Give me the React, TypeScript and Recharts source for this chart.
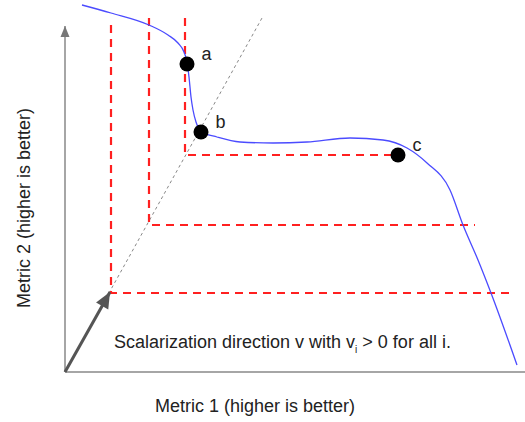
import { ComposedChart, Line, Scatter, XAxis, YAxis, LabelList } from "recharts";

// coordinates are measured from the origin of the picture, y up
const frontier = [
  { x: 17, y: 367 },
  { x: 46, y: 359 },
  { x: 84, y: 347 },
  { x: 103, y: 337 },
  { x: 113, y: 329 },
  { x: 119, y: 320 },
  { x: 122, y: 310 },
  { x: 124, y: 295 },
  { x: 126, y: 275 },
  { x: 128, y: 262 },
  { x: 131, y: 250 },
  { x: 137, y: 240 },
  { x: 152, y: 235 },
  { x: 175, y: 230 },
  { x: 208, y: 229 },
  { x: 242, y: 230 },
  { x: 285, y: 234 },
  { x: 318, y: 232 },
  { x: 342, y: 224 },
  { x: 362, y: 209 },
  { x: 385, y: 182 },
  { x: 398, y: 147 },
  { x: 413, y: 112 },
  { x: 426, y: 79 },
  { x: 452, y: 7 },
];

const solutions = [
  { x: 122, y: 308, name: "a" },
  { x: 136, y: 240, name: "b" },
  { x: 333, y: 217, name: "c" },
];

const levelA = [
  { x: 46, y: 347 },
  { x: 46, y: 79 },
  { x: 450, y: 79 },
];
const levelB = [
  { x: 84, y: 354 },
  { x: 84, y: 147 },
  { x: 410, y: 147 },
];
const levelC = [
  { x: 120, y: 354 },
  { x: 120, y: 217 },
  { x: 333, y: 217 },
];

const diagonal = [
  { x: 0, y: 0 },
  { x: 197, y: 354 },
];
const direction = [
  { x: 0, y: 0 },
  { x: 45, y: 80 },
];
const xAxisLine = [
  { x: 0, y: 0 },
  { x: 460, y: 0 },
];
const yAxisLine = [
  { x: 0, y: 0 },
  { x: 0, y: 346 },
];

const font = '"Liberation Sans", Arial, sans-serif';

// arrowhead drawn at the last point of a two-point line
function arrowHead(color: string, len: number, half: number, data: { x: number; y: number }[]) {
  const dx = data[1].x - data[0].x;
  const dy = -(data[1].y - data[0].y);
  const ang = Math.atan2(dy, dx);
  return (props: any) => {
    const { cx, cy, index } = props;
    if (index !== data.length - 1) return <g key={index} />;
    const bx = cx - len * Math.cos(ang);
    const by = cy - len * Math.sin(ang);
    const px = -Math.sin(ang) * half;
    const py = Math.cos(ang) * half;
    return (
      <polygon
        key={index}
        points={`${cx},${cy} ${bx + px},${by + py} ${bx - px},${by - py}`}
        fill={color}
      />
    );
  };
}

export default function App() {
  return (
    <div style={{ position: "absolute", left: 0, top: 0, width: 525, height: 422, background: "#fff", fontFamily: font }}>
      <ComposedChart width={525} height={422} margin={{ top: 0, right: 0, left: 65, bottom: 50 }}>
        <XAxis type="number" dataKey="x" domain={[0, 460]} hide />
        <YAxis type="number" dataKey="y" domain={[0, 372]} hide />
        <Line data={xAxisLine} dataKey="y" stroke="#888" strokeWidth={1.5} dot={false} isAnimationActive={false} />
        <Line
          data={yAxisLine}
          dataKey="y"
          stroke="#888"
          strokeWidth={1.5}
          dot={arrowHead("#777", 11, 4.5, yAxisLine)}
          isAnimationActive={false}
        />
        <Line data={diagonal} dataKey="y" stroke="#888" strokeWidth={1} strokeDasharray="3 3" dot={false} isAnimationActive={false} />
        <Line data={levelA} dataKey="y" stroke="#ff2020" strokeWidth={2.2} strokeDasharray="8 6" dot={false} isAnimationActive={false} />
        <Line data={levelB} dataKey="y" stroke="#ff2020" strokeWidth={2.2} strokeDasharray="8 6" dot={false} isAnimationActive={false} />
        <Line data={levelC} dataKey="y" stroke="#ff2020" strokeWidth={2.2} strokeDasharray="8 6" dot={false} isAnimationActive={false} />
        <Line
          data={direction}
          dataKey="y"
          stroke="#555"
          strokeWidth={3}
          dot={arrowHead("#555", 16, 7, direction)}
          isAnimationActive={false}
        />
        <Line
          data={frontier}
          dataKey="y"
          type="monotoneX"
          stroke="#4b4bff"
          strokeWidth={1.3}
          dot={false}
          isAnimationActive={false}
        />
        <Scatter
          data={solutions}
          dataKey="y"
          fill="#000"
          isAnimationActive={false}
          shape={(p: any) => <circle cx={p.cx} cy={p.cy} r={7.5} fill="#000" />}
        >
          <LabelList
            dataKey="name"
            content={(p: any) => (
              <text x={p.x + 19} y={p.y + 1} fill="#222" fontSize={18} fontFamily={font}>
                {p.value}
              </text>
            )}
          />
        </Scatter>
      </ComposedChart>
      <div style={{ position: "absolute", left: 114, top: 332, fontSize: 18, color: "#222", whiteSpace: "nowrap" }}>
        Scalarization direction v with v
        <sub style={{ fontSize: 10, verticalAlign: -5, color: "#222" }}>i</sub> &gt; 0 for all i.
      </div>
      <div style={{ position: "absolute", left: 0, width: 510, top: 396, textAlign: "center", fontSize: 18, color: "#222" }}>
        Metric 1 (higher is better)
      </div>
      <div
        style={{
          position: "absolute",
          left: 24,
          top: 208,
          fontSize: 18,
          color: "#222",
          whiteSpace: "nowrap",
          transform: "translate(-50%, -50%) rotate(-90deg)",
        }}
      >
        Metric 2 (higher is better)
      </div>
    </div>
  );
}
